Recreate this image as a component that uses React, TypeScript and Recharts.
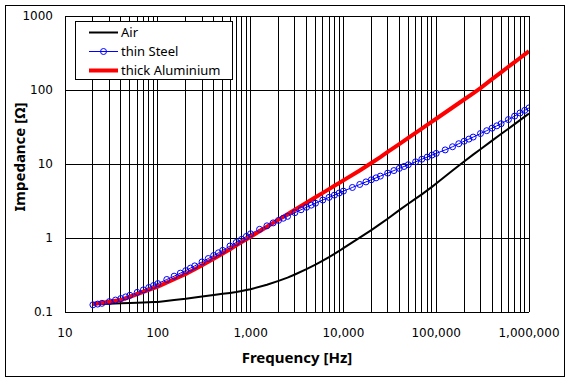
import { LineChart, Line, XAxis, YAxis, CartesianGrid, Legend } from 'recharts';

// frequency points [Hz] for Air and thick Aluminium
const freqHz = [
  20, 25, 30, 40, 50, 60, 70, 80, 90,
  100, 150, 200, 250, 300, 400, 500, 600, 700, 800, 900,
  1000, 1500, 2000, 2500, 3000, 4000, 5000, 6000, 7000, 8000, 9000,
  10000, 15000, 20000, 25000, 30000, 40000, 50000, 60000, 70000, 80000, 90000,
  100000, 150000, 200000, 250000, 300000, 400000, 500000, 600000, 700000, 800000, 900000,
  1000000,
];

// impedance [Ohm]
const airOhm = [
  0.127, 0.128, 0.129, 0.131, 0.132, 0.133, 0.134, 0.135, 0.136,
  0.137, 0.145, 0.151, 0.157, 0.162, 0.17, 0.176, 0.181, 0.186, 0.192, 0.198,
  0.203, 0.233, 0.263, 0.292, 0.321, 0.379, 0.436, 0.493, 0.551, 0.61, 0.668,
  0.728, 1.01, 1.28, 1.55, 1.82, 2.38, 2.9, 3.4, 3.89, 4.4, 4.91,
  5.46, 8.15, 10.8, 13.4, 15.8, 20.7, 25.4, 30.0, 34.6, 39.1, 43.6,
  48,
];

const thickAluminiumOhm = [
  0.128, 0.133, 0.138, 0.145, 0.16, 0.174, 0.187, 0.199, 0.21,
  0.22, 0.277, 0.327, 0.378, 0.429, 0.523, 0.616, 0.706, 0.795, 0.88, 0.96,
  1.04, 1.42, 1.77, 2.1, 2.41, 3.0, 3.55, 4.07, 4.58, 5.07, 5.54,
  6.01, 8.18, 10.3, 12.4, 14.6, 18.6, 22.6, 26.4, 30.1, 33.8, 37.4,
  40.9, 58.0, 74.4, 90.2, 106, 140, 173, 206, 238, 271, 303,
  335,
];

// thin Steel was measured on a denser grid
const steelFreqHz = [
  20, 22.5, 25, 30, 35, 40, 45, 50, 60, 70, 80, 90,
  100, 125, 150, 175, 200, 225, 250, 300, 350, 400, 450, 500, 600, 700, 800, 900,
  1000, 1250, 1500, 1750, 2000, 2250, 2500, 3000, 3500, 4000, 4500, 5000, 6000, 7000, 8000, 9000,
  10000, 12500, 15000, 17500, 20000, 22500, 25000, 30000, 35000, 40000, 45000, 50000, 60000, 70000, 80000, 90000,
  100000, 125000, 150000, 175000, 200000, 225000, 250000, 300000, 350000, 400000, 450000, 500000, 600000, 700000, 800000, 900000,
  1000000,
];

const thinSteelOhm = [
  0.125, 0.128, 0.131, 0.138, 0.145, 0.152, 0.16, 0.168, 0.184, 0.199, 0.214, 0.228,
  0.242, 0.275, 0.305, 0.335, 0.362, 0.392, 0.42, 0.475, 0.528, 0.58, 0.631, 0.68, 0.78, 0.87, 0.96, 1.05,
  1.14, 1.31, 1.46, 1.6, 1.73, 1.85, 1.96, 2.2, 2.41, 2.6, 2.78, 2.95, 3.26, 3.54, 3.8, 4.05,
  4.3, 4.82, 5.29, 5.73, 6.12, 6.5, 6.86, 7.53, 8.15, 8.72, 9.26, 9.77, 10.7, 11.6, 12.4, 13.2,
  13.9, 15.5, 17.1, 18.8, 20.3, 21.7, 23.1, 25.8, 28.2, 30.5, 32.8, 35.0, 39.8, 44.4, 48.9, 53.1,
  57.3,
];

const seriesNames = ['Air', 'thin Steel', 'thick Aluminium'];

const xTicks = [10, 100, 1000, 10000, 100000, 1000000];
const yTicks = [0.1, 1, 10, 100, 1000];
const minorSteps = [1, 2, 3, 4, 5, 6, 7, 8, 9];
const xGridLines = [...xTicks.slice(0, -1).flatMap((d) => minorSteps.map((m) => d * m)), 1000000];

const airData = freqHz.map((f, i) => ({ f, z: airOhm[i] }));
const aluData = freqHz.map((f, i) => ({ f, z: thickAluminiumOhm[i] }));
const steelData = steelFreqHz.map((f, i) => ({ f, z: thinSteelOhm[i] }));

const tickStyle = { fontFamily: 'DejaVu Sans', fontSize: 12, fill: '#000' };
const titleFont = { fontFamily: 'Noto Sans', fontSize: 15, fontWeight: 700, fill: '#000' };

const XTitle = () => (
  <text x={297} y={363} textAnchor="middle" style={titleFont}>
    Frequency [Hz]
  </text>
);

const YTitle = () => (
  <text x={25} y={157} textAnchor="middle" transform="rotate(-90 25 157)" style={titleFont}>
    Impedance [Ω]
  </text>
);

function LegendBox() {
  const rows = [
    { name: seriesNames[0], color: '#000', width: 2, dot: false },
    { name: seriesNames[1], color: '#0000ff', width: 1, dot: true },
    { name: seriesNames[2], color: '#ff0000', width: 4, dot: false },
  ];
  return (
    <div style={{ width: 158, height: 59, border: '1px solid #000', background: '#fff', boxSizing: 'border-box' }}>
      <svg width={156} height={57} style={{ display: 'block' }}>
        {rows.map((r, i) => {
          const y = 10.5 + i * 19;
          return (
            <g key={r.name}>
              <line x1={13} x2={42} y1={y} y2={y} stroke={r.color} strokeWidth={r.width} />
              {r.dot && <circle cx={27.5} cy={y} r={3} fill="none" stroke={r.color} />}
              <text x={45} y={y + 4.5} style={{ fontFamily: 'Noto Sans', fontSize: 13, fill: '#000' }}>
                {r.name}
              </text>
            </g>
          );
        })}
      </svg>
    </div>
  );
}

export default function App() {
  return (
    <div style={{ position: 'absolute', left: 0, top: 0, width: 571, height: 382, background: '#fff' }}>
      <div
        style={{
          position: 'absolute',
          left: 5,
          top: 5,
          width: 560,
          height: 372,
          border: '1px solid #000',
          boxSizing: 'border-box',
        }}
      />
      <LineChart width={571} height={382} margin={{ top: 16, right: 42, bottom: 40, left: 20 }}>
        <CartesianGrid
          stroke="#000"
          strokeWidth={1}
          horizontalValues={yTicks}
          verticalValues={xGridLines}
          shapeRendering="crispEdges"
        />
        <XAxis
          dataKey="f"
          type="number"
          scale="log"
          domain={[10, 1000000]}
          ticks={xTicks}
          allowDataOverflow
          height={30}
          tickLine={false}
          axisLine={false}
          tickMargin={10}
          tick={tickStyle}
          tickFormatter={(v: number) => v.toLocaleString('en-US')}
          interval={0}
          label={<XTitle />}
        />
        <YAxis
          type="number"
          scale="log"
          domain={[0.1, 1000]}
          ticks={yTicks}
          allowDataOverflow
          width={45}
          tickLine={false}
          axisLine={false}
          tickMargin={6}
          tick={tickStyle}
          tickFormatter={(v: number) => String(v)}
          interval={0}
          label={<YTitle />}
        />
        <Legend
          layout="vertical"
          verticalAlign="middle"
          align="center"
          content={() => <LegendBox />}
          wrapperStyle={{ left: 75, top: 21, width: 158, height: 59 }}
        />
        <Line
          name={seriesNames[0]}
          data={airData}
          dataKey="z"
          type="linear"
          stroke="#000"
          strokeWidth={2}
          dot={false}
          isAnimationActive={false}
        />
        <Line
          name={seriesNames[1]}
          data={steelData}
          dataKey="z"
          type="linear"
          stroke="#0000ff"
          strokeWidth={1}
          dot={{ r: 3, stroke: '#0000ff', strokeWidth: 1, fill: 'none' }}
          isAnimationActive={false}
        />
        <Line
          name={seriesNames[2]}
          data={aluData}
          dataKey="z"
          type="linear"
          stroke="#ff0000"
          strokeWidth={4}
          dot={false}
          isAnimationActive={false}
        />
      </LineChart>
    </div>
  );
}
